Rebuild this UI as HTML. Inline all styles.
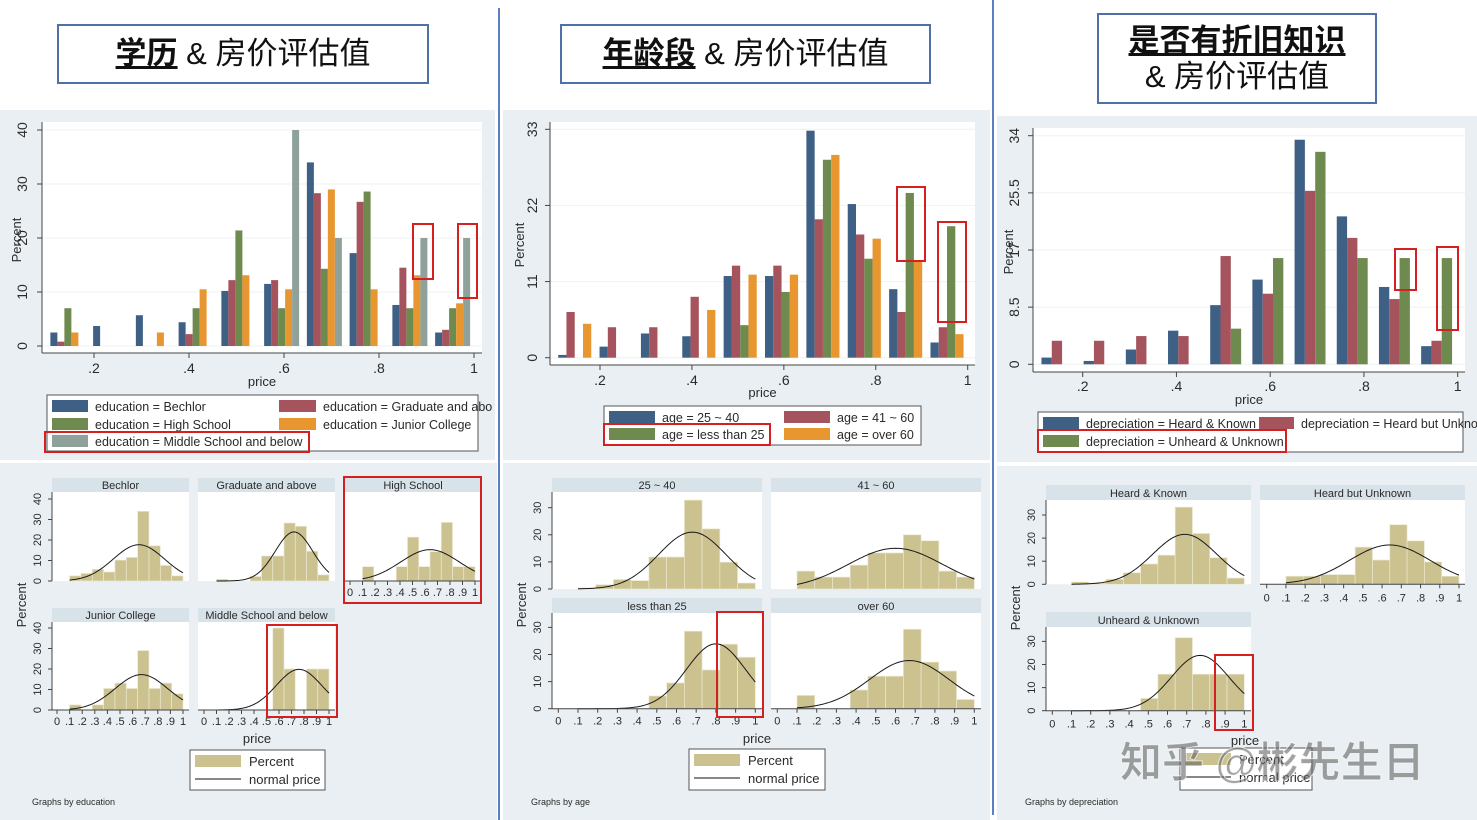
<!DOCTYPE html>
<html><head><meta charset="utf-8">
<style>
body{margin:0;background:#fff;width:1477px;height:820px;overflow:hidden;position:relative;font-family:"Liberation Sans","Noto Sans CJK SC",sans-serif;}
svg{position:absolute;left:0;top:0;}
.tbox{position:absolute;border:2px solid #4f71a8;background:#fff;box-sizing:border-box;text-align:center;font-family:"Liberation Sans","Noto Sans CJK SC",sans-serif;color:#111;font-size:31px;}
.tbox b{text-decoration:underline;text-decoration-thickness:3px;}
</style></head>
<body>
<svg id="chart" width="1477" height="820" viewBox="0 0 1477 820">
  <defs><clipPath id="clip1"><rect x="0" y="0" width="495" height="820"/></clipPath></defs>
  <rect x="0" y="110" width="495" height="350" fill="#e9eff2"/>
  <rect x="503" y="110" width="487" height="350" fill="#e9eff2"/>
  <rect x="997" y="116" width="480" height="346" fill="#e9eff2"/>
  <rect x="0" y="463" width="497" height="357" fill="#e9eff2"/>
  <rect x="503" y="463" width="487" height="357" fill="#e9eff2"/>
  <rect x="997" y="466" width="480" height="354" fill="#e9eff2"/>
  <line x1="499" y1="8" x2="499" y2="820" stroke="#5b7fc0" stroke-width="2"/>
  <line x1="993" y1="0" x2="993" y2="815" stroke="#5b7fc0" stroke-width="2"/>
</svg>
<div class="tbox" style="left:57px;top:24px;width:372px;height:60px;line-height:56px;"><b>学历</b> &amp; 房价评估值</div>
<div class="tbox" style="left:560px;top:24px;width:371px;height:60px;line-height:56px;"><b>年龄段</b> &amp; 房价评估值</div>
<div class="tbox" style="left:1097px;top:13px;width:280px;height:91px;line-height:36px;padding-top:8px;"><b>是否有折旧知识</b><br>&amp; 房价评估值</div>

<script>
// ---------- data ----------
const binCenters=[0.145,0.235,0.325,0.415,0.505,0.595,0.685,0.775,0.865,0.955];
const binWidth=0.09;
const topXTicks=[0.2,0.4,0.6,0.8,1];
const topXLabels=['.2','.4','.6','.8','1'];
const facetXTicks=[0,0.1,0.2,0.3,0.4,0.5,0.6,0.7,0.8,0.9,1];
const facetXLabels=['0','.1','.2','.3','.4','.5','.6','.7','.8','.9','1'];

const eduNames=['Bechlor','Graduate and above','High School','Junior College','Middle School and below'];
const eduBechlor=[2.5,3.7,5.7,4.4,10.2,11.5,34,17.2,7.6,2.5];
const eduGraduate=[0.8,0,0,2.2,12.2,12.2,28.3,26.7,14.5,3];
const eduHigh=[7,0,0,7,21.4,7,14.3,28.6,7,7];
const eduJunior=[2.5,0,2.5,10.5,13.1,10.5,29,10.5,13.1,7.9];
const eduMiddle=[0,0,0,0,0,40,20,0,20,20];
const eduMean=[0.65,0.72,0.64,0.67,0.76];
const eduSd=[0.203,0.15,0.235,0.208,0.181];
const eduYTicks=[0,10,20,30,40];
const eduFacetYTicks=[0,10,20,30,40];

const ageNames=['25 ~ 40','41 ~ 60','less than 25','over 60'];
const age2540=[0.4,1.6,3.5,3.1,11.8,11.8,32.8,22.2,9.9,2.2];
const age4160=[6.6,4.4,4.4,8.8,13.3,13.3,20,17.8,6.6,4.4];
const ageLess25=[0,0,0,0,4.7,9.5,28.6,14.3,23.8,19.0];
const ageOver60=[4.9,0,0,6.9,12,12,29.3,17.2,13.9,3.4];
const ageMean=[0.68,0.6,0.8,0.67];
const ageSd=[0.171,0.239,0.15,0.202];
const ageYTicks=[0,11,22,33];
const ageFacetYTicks=[0,10,20,30];

const depNames=['Heard & Known','Heard but Unknown','Unheard & Unknown'];
const depHK=[1.0,0.5,2.2,5.0,8.8,12.6,33.4,22.0,11.5,2.7];
const depHU=[3.5,3.5,4.2,4.2,16.1,10.5,25.8,18.8,9.7,3.5];
const depUU=[0,0,0,0,5.3,15.8,31.6,15.8,15.8,15.8];
const depMean=[0.69,0.64,0.77];
const depSd=[0.166,0.211,0.15];
const depYTicks=[0,8.5,17,25.5,34];
const depFacetYTicks=[0,10,20,30];

// ---------- helpers ----------
const NS='http://www.w3.org/2000/svg';
const svg=document.getElementById('chart');
const FONT='"Liberation Sans","Noto Sans CJK SC",sans-serif';
function mk(tag,attrs,name){
  const e=document.createElementNS(NS,tag);
  for(const k in attrs) e.setAttribute(k,attrs[k]);
  
  
  svg.appendChild(e);
  return e;
}
function txt(x,y,s,size,name,anchor,rot,fill){
  const a={x:x,y:y,'font-size':size,'font-family':FONT,fill:fill||'#2a2a2a','text-anchor':anchor||'middle'};
  if(rot) a.transform='rotate(-90 '+x+' '+y+')';
  const t=mk('text',a,name);
  t.textContent=s;
  return t;
}
function redBox(x,y,w,h,name){mk('rect',{x:x,y:y,width:w,height:h,fill:'none',stroke:'#d42020','stroke-width':2},name);}
const COLORS=['#3f6085','#a5535c','#6f8a4f','#e8962f','#8ea19b'];
const KHAKI='#cbc28f';

function groupChart(g,series,yTicks,key){
  const sx=v=>g.xa+(v-0.2)*(g.xb-g.xa)/0.8;
  const sy=v=>g.y0-v*(g.y0-g.yT)/g.yMax;
  mk('rect',{x:g.wx0,y:g.wy0,width:g.wx1-g.wx0,height:g.axY-g.wy0,fill:'#fff'},key+'-plot-area');
  yTicks.forEach(t=>{
    mk('line',{x1:g.wx0,x2:g.wx1,y1:sy(t),y2:sy(t),stroke:'#eef2f4','stroke-width':1},key+'-gridline');
  });
  const bw=g.groupW/series.length;
  series.forEach((arr,s)=>{
    arr.forEach((v,i)=>{
      const xl=sx(binCenters[i]-g.groupW/2+s*bw);
      const xr=sx(binCenters[i]-g.groupW/2+(s+1)*bw);
      mk('rect',{x:xl,y:sy(v),width:xr-xl,height:sy(0)-sy(v),fill:COLORS[s]},key+'-bar-s'+s+'-b'+i);
    });
  });
  mk('line',{x1:g.wx0,x2:g.wx0,y1:g.wy0,y2:g.axY,stroke:'#444','stroke-width':1},key+'-y-axis');
  mk('line',{x1:g.wx0,x2:g.wx1,y1:g.axY,y2:g.axY,stroke:'#444','stroke-width':1},key+'-x-axis');
  yTicks.forEach(t=>{
    mk('line',{x1:g.wx0-5,x2:g.wx0,y1:sy(t),y2:sy(t),stroke:'#444'},key+'-y-tick');
    txt(g.yLabX,sy(t),String(t),14,key+'-y-tick-label','middle',true);
  });
  topXTicks.forEach((t,i)=>{
    mk('line',{x1:sx(t),x2:sx(t),y1:g.axY,y2:g.axY+5,stroke:'#444'},key+'-x-tick');
    txt(sx(t),g.xLabY,topXLabels[i],14,key+'-x-tick-label');
  });
  txt((g.wx0+g.wx1)/2+g.priceDx,g.priceY,'price',13,key+'-x-axis-title');
  txt(g.pctX,g.pctY,'Percent',13,key+'-y-axis-title','middle',true);
}
function legend(box,items,key){
  mk('rect',{x:box[0],y:box[1],width:box[2],height:box[3],fill:'#fff',stroke:'#555','stroke-width':1},key+'-legend');
  items.forEach(it=>{
    mk('rect',{x:it[0],y:it[1]-6,width:it[2],height:12,fill:it[3]},key+'-legend-swatch');
    const t=txt(it[0]+it[2]+7,it[1]+5,it[4],12.5,key+'-legend-entry','start');
    if(key==='edu') t.setAttribute('clip-path','url(#clip1)');
  });
}
function facet(f,vals,mean,sd,label,yTicks,key){
  const sx=v=>f.x0+v*(f.x1-f.x0);
  const sy=v=>f.yb-v*f.pu;
  mk('rect',{x:f.hx0,y:f.hy0,width:f.hx1-f.hx0,height:f.hy1-f.hy0,fill:'#d8e2e9'},key+'-header');
  txt((f.hx0+f.hx1)/2,f.hy1-3,label,11,key+'-header-label');
  mk('rect',{x:f.hx0,y:f.hy1,width:f.hx1-f.hx0,height:f.yb-f.hy1,fill:'#fff'},key+'-plot');
  vals.forEach((v,i)=>{
    if(v<=0) return;
    const xl=sx(binCenters[i]-binWidth/2), xr=sx(binCenters[i]+binWidth/2);
    mk('rect',{x:xl,y:sy(v),width:xr-xl,height:v*f.pu,fill:KHAKI,stroke:'#ece8d0','stroke-width':0.7},key+'-hist-bar-'+i);
  });
  let d='';
  for(let k=0;k<=90;k++){
    const x=0.1+k*0.01;
    const y=binWidth*100/(sd*Math.sqrt(2*Math.PI))*Math.exp(-((x-mean)**2)/(2*sd*sd));
    d+=(k?'L':'M')+sx(x).toFixed(2)+' '+sy(y).toFixed(2);
  }
  mk('path',{d:d,fill:'none',stroke:'#1a1a1a','stroke-width':1},key+'-normal-curve');
  if(f.showY){
    mk('line',{x1:f.hx0,x2:f.hx0,y1:f.hy1,y2:f.yb,stroke:'#444'},key+'-y-axis');
    yTicks.forEach(t=>{
      mk('line',{x1:f.hx0-4,x2:f.hx0,y1:sy(t),y2:sy(t),stroke:'#444'},key+'-y-tick');
      txt(f.yLabX,sy(t),String(t),11,key+'-y-tick-label','middle',true);
    });
  }
  if(f.showX){
    mk('line',{x1:f.hx0,x2:f.hx1,y1:f.yb,y2:f.yb,stroke:'#444'},key+'-x-axis');
    facetXTicks.forEach((t,i)=>{
      mk('line',{x1:sx(t),x2:sx(t),y1:f.yb,y2:f.yb+4,stroke:'#444'},key+'-x-tick');
      txt(sx(t),f.xLabY,facetXLabels[i],11,key+'-x-tick-label');
    });
  }
}
function facetLegend(box,key){
  mk('rect',{x:box[0],y:box[1],width:box[2],height:box[3],fill:'#fff',stroke:'#555'},key+'-facet-legend');
  mk('rect',{x:box[0]+5,y:box[1]+5,width:46,height:12,fill:KHAKI},key+'-facet-legend-swatch');
  txt(box[0]+59,box[1]+16,'Percent',13,key+'-facet-legend-percent','start');
  mk('line',{x1:box[0]+5,x2:box[0]+51,y1:box[1]+29,y2:box[1]+29,stroke:'#111'},key+'-facet-legend-line');
  txt(box[0]+59,box[1]+34,'normal price',13,key+'-facet-legend-normal','start');
}

// ---------- top grouped charts ----------
groupChart({wx0:42,wy0:122,wx1:482,axY:353,xa:94,xb:474,y0:346,yT:130,yMax:40,groupW:0.0737,
  yLabX:27,xLabY:373,priceY:386,priceDx:0,pctX:21,pctY:240},
  [eduBechlor,eduGraduate,eduHigh,eduJunior,eduMiddle],eduYTicks,'edu');
legend([47,395,431,56],[
  [52,406,36,COLORS[0],'education = Bechlor'],[279,406,37,COLORS[1],'education = Graduate and abo'],
  [52,424,36,COLORS[2],'education = High School'],[279,424,37,COLORS[3],'education = Junior College'],
  [52,441,36,COLORS[4],'education = Middle School and below']],'edu');
redBox(45,432,264,20,'edu-legend-highlight');
redBox(413,224,20,55,'edu-highlight-1');
redBox(458,224,19,74,'edu-highlight-2');

groupChart({wx0:550,wy0:122,wx1:975,axY:365,xa:600,xb:967.7,y0:357.7,yT:129.3,yMax:33,groupW:0.072,
  yLabX:537,xLabY:385,priceY:397,priceDx:0,pctX:524,pctY:245},
  [age2540,age4160,ageLess25,ageOver60],ageYTicks,'age');
legend([604,406,317,39],[
  [609,417,46,COLORS[0],'age = 25 ~ 40'],[784,417,46,COLORS[1],'age = 41 ~ 60'],
  [609,434,46,COLORS[2],'age = less than 25'],[784,434,46,COLORS[3],'age = over 60']],'age');
redBox(604,424,166,21,'age-legend-highlight');
redBox(897,187,28,74,'age-highlight-1');
redBox(938,222,28,100,'age-highlight-2');

groupChart({wx0:1033,wy0:128,wx1:1465,axY:372,xa:1082.7,xb:1457.7,y0:364.3,yT:135.7,yMax:34,groupW:0.066,
  yLabX:1019,xLabY:391,priceY:404,priceDx:0,pctX:1013,pctY:252},
  [depHK,depHU,depUU],depYTicks,'dep');
legend([1038,412,425,40],[
  [1043,423,36,COLORS[0],'depreciation = Heard & Known'],[1259,423,35,COLORS[1],'depreciation = Heard but Unkno'],
  [1043,441,36,COLORS[2],'depreciation = Unheard & Unknown']],'dep');
redBox(1038,430,248,22,'dep-legend-highlight');
redBox(1395,249,21,41,'dep-highlight-1');
redBox(1437,247,21,83,'dep-highlight-2');

// ---------- facet histograms: education ----------
const eduSeries=[eduBechlor,eduGraduate,eduHigh,eduJunior,eduMiddle];
const eduLayout=[
 {hx0:52,hx1:189,hy0:478,hy1:492,yb:581,x0:57,x1:183,showY:true,showX:false},
 {hx0:198,hx1:335,hy0:478,hy1:492,yb:581,x0:204,x1:329,showY:false,showX:false},
 {hx0:345,hx1:481,hy0:478,hy1:492,yb:581,x0:350,x1:475,showY:false,showX:true},
 {hx0:52,hx1:189,hy0:608,hy1:622,yb:710,x0:57,x1:183,showY:true,showX:true},
 {hx0:198,hx1:335,hy0:608,hy1:622,yb:710,x0:204,x1:329,showY:false,showX:true}];
eduLayout.forEach((f,i)=>{f.pu=2.05;f.yLabX=41;f.xLabY=f.yb+15;
  facet(f,eduSeries[i],eduMean[i],eduSd[i],eduNames[i],eduFacetYTicks,'edu-facet-'+i);});
txt(257,743,'price',13,'edu-facet-x-title');
txt(26,605,'Percent',13,'edu-facet-y-title','middle',true);
facetLegend([190,750,135,40],'edu');
txt(32,805,'Graphs by education',9,'edu-note','start');
redBox(344,477,137,126,'edu-facet-highlight-1');
redBox(267,625,70,92,'edu-facet-highlight-2');

// ---------- facet histograms: age ----------
const ageSeries=[age2540,age4160,ageLess25,ageOver60];
const ageLayout=[
 {hx0:552,hx1:762,hy0:478,hy1:492,yb:589,x0:558.3,x1:755.3,showY:true,showX:false},
 {hx0:771,hx1:981,hy0:478,hy1:492,yb:589,x0:777.3,x1:974.3,showY:false,showX:false},
 {hx0:552,hx1:762,hy0:598,hy1:613,yb:708.7,x0:558.3,x1:755.3,showY:true,showX:true},
 {hx0:771,hx1:981,hy0:598,hy1:613,yb:708.7,x0:777.3,x1:974.3,showY:false,showX:true}];
ageLayout.forEach((f,i)=>{f.pu=2.71;f.yLabX=541;f.xLabY=f.yb+16;
  facet(f,ageSeries[i],ageMean[i],ageSd[i],ageNames[i],ageFacetYTicks,'age-facet-'+i);});
txt(757,743,'price',13,'age-facet-x-title');
txt(526,605,'Percent',13,'age-facet-y-title','middle',true);
facetLegend([689,749,136,41],'age');
txt(531,805,'Graphs by age',9,'age-note','start');
redBox(717,612,46,105,'age-facet-highlight');

// ---------- facet histograms: depreciation ----------
const depSeries=[depHK,depHU,depUU];
const depLayout=[
 {hx0:1046,hx1:1251,hy0:485,hy1:500,yb:584.3,x0:1052.3,x1:1244.3,showY:true,showX:false},
 {hx0:1260,hx1:1465,hy0:485,hy1:500,yb:584.3,x0:1266.7,x1:1459,showY:false,showX:true},
 {hx0:1046,hx1:1251,hy0:612,hy1:627,yb:710.7,x0:1052.3,x1:1244.3,showY:true,showX:true}];
depLayout.forEach((f,i)=>{f.pu=2.31;f.yLabX=1035;f.xLabY=f.yb+17;
  facet(f,depSeries[i],depMean[i],depSd[i],depNames[i],depFacetYTicks,'dep-facet-'+i);});
txt(1245,745,'price',13,'dep-facet-x-title');
txt(1020,608,'Percent',13,'dep-facet-y-title','middle',true);
facetLegend([1180,748,132,42],'dep');
txt(1025,805,'Graphs by depreciation',9,'dep-note','start');
redBox(1215,655,38,75,'dep-facet-highlight');

// watermark
const wm=txt(1120,777,'知乎 @彬先生日',42,'watermark','start',false,'rgba(100,100,100,0.6)');
wm.setAttribute('stroke','rgba(255,255,255,0.7)');
wm.setAttribute('font-weight','bold');
</script>
</body></html>
